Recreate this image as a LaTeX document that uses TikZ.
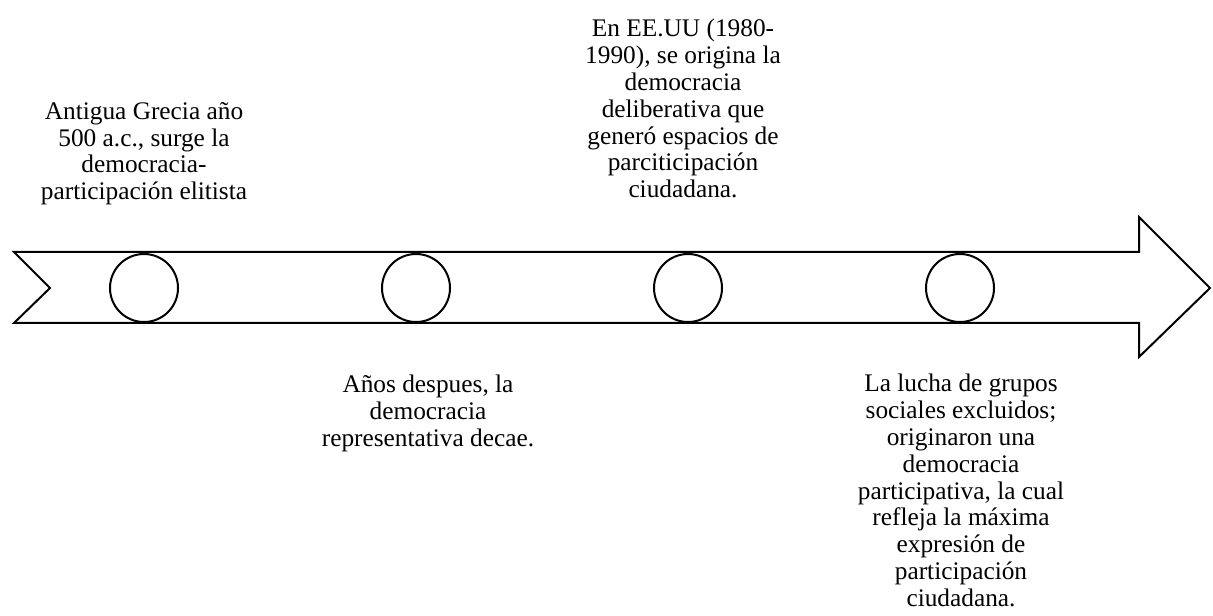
\documentclass[tikz,border=0pt]{standalone}
\usepackage{fontspec}
\setmainfont{Liberation Serif}
\tikzset{evento/.style={font=\fontsize{19}{20.1}\selectfont, align=center, anchor=north, inner sep=0}}
\begin{document}
\begin{tikzpicture}[x=0.75pt,y=0.75pt,yscale=-1,xscale=1]
\useasboundingbox (0,0) rectangle (1213,616);

%Shape: Arrow
\draw [line width=1.5] (14,252) -- (1139,252) -- (1139,217) -- (1210,288) -- (1139,357) -- (1139,323) -- (14,323) -- (50,288) -- cycle ;

%Shape: Circles
\draw [line width=1.5] (144,288) circle [radius=34] ;
\draw [line width=1.5] (416,288) circle [radius=34] ;
\draw [line width=1.5] (688,288) circle [radius=34] ;
\draw [line width=1.5] (960,288) circle [radius=34] ;

% Text Node
\node (grecia) [evento] at (144,102) {Antigua Grecia año\\ 500 a.c., surge la\\ democracia-\\ participación elitista};
% Text Node
\node (despues) [evento] at (428,375) {Años despues, la\\ democracia\\ representativa decae.};
% Text Node
\node (eeuu) [evento] at (683,19) {En EE.UU (1980-\\ 1990), se origina la\\ democracia\\ deliberativa que\\ generó espacios de\\ parciticipación\\ ciudadana.};
% Text Node
\node (lucha) [evento] at (961,374) {La lucha de grupos\\ sociales excluidos;\\ originaron una\\ democracia\\ participativa, la cual\\ refleja la máxima\\ expresión de\\ participación\\ ciudadana.};

\end{tikzpicture}
\end{document}
